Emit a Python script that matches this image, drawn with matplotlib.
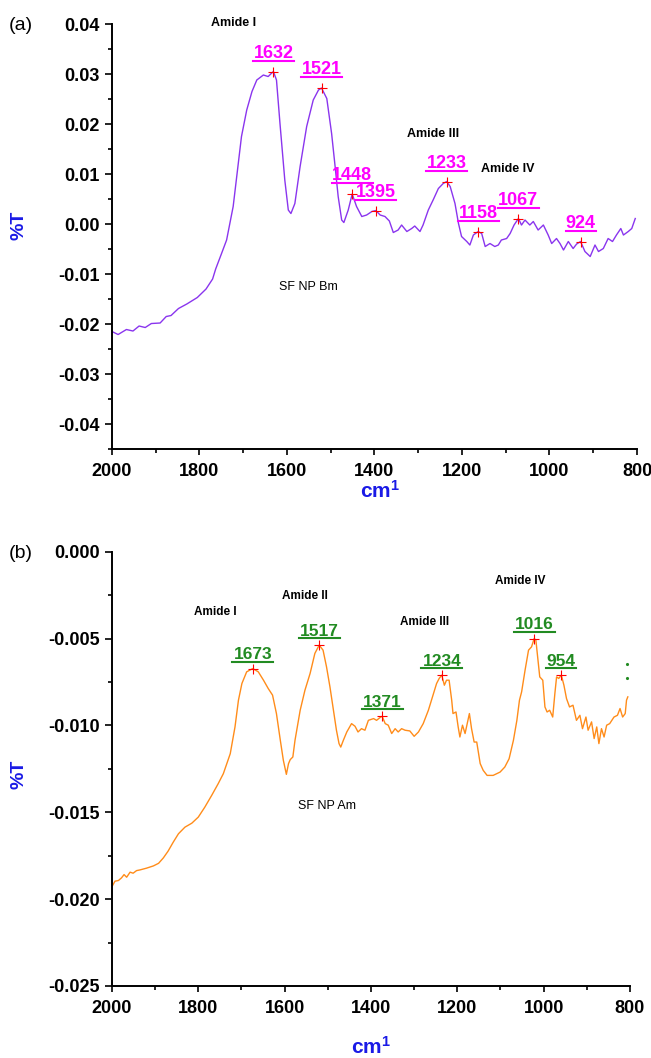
import matplotlib
matplotlib.use("Agg")
import matplotlib.pyplot as plt
from matplotlib.ticker import MultipleLocator, FuncFormatter
from matplotlib.transforms import offset_copy

plt.rcParams['font.family'] = ['Liberation Sans', 'DejaVu Sans']
plt.rcParams['axes.unicode_minus'] = False
plt.rcParams['mathtext.fontset'] = 'custom'
plt.rcParams['mathtext.bf'] = 'Liberation Sans:bold'
plt.rcParams['mathtext.rm'] = 'Liberation Sans'

# ---------------- (a) SF NP Bm ----------------
bm_wn = [2000, 1986, 1967, 1952, 1938, 1924, 1910, 1890, 1876, 1865, 1848, 1829, 1805, 1785,
         1770, 1763, 1750, 1738, 1723, 1704, 1692, 1680, 1669, 1654, 1643, 1636, 1631, 1624,
         1616, 1605, 1597, 1591, 1582, 1570, 1555, 1540, 1528, 1521, 1509, 1498, 1490, 1483,
         1475, 1470, 1460, 1451, 1441, 1429, 1418, 1406, 1397, 1387, 1376, 1366, 1357, 1346,
         1338, 1326, 1315, 1308, 1296, 1289, 1277, 1266, 1254, 1243, 1235, 1227, 1216, 1208,
         1201, 1189, 1182, 1174, 1163, 1155, 1147, 1136, 1125, 1117, 1110, 1098, 1090, 1081,
         1071, 1064, 1056, 1045, 1037, 1026, 1014, 1003, 995, 984, 976, 968, 957, 946, 938,
         929, 919, 907, 896, 888, 877, 866, 856, 847, 837, 831, 820, 812, 804]
bm_t = [-0.0215, -0.0221, -0.0211, -0.0214, -0.0204, -0.0207, -0.0199, -0.0198, -0.0185,
        -0.0183, -0.0169, -0.0160, -0.0147, -0.0130, -0.0110, -0.0090, -0.0060, -0.0032,
        0.0035, 0.0175, 0.0228, 0.0265, 0.0288, 0.0298, 0.0295, 0.0301, 0.0305, 0.0288,
        0.0201, 0.0088, 0.0028, 0.0021, 0.0041, 0.0115, 0.0195, 0.0248, 0.0268, 0.0272,
        0.0251, 0.0181, 0.0115, 0.0055, 0.0008, 0.0003, 0.0028, 0.0060, 0.0035, 0.0015,
        0.0018, 0.0025, 0.0027, 0.0018, 0.0015, 0.0006, -0.0017, -0.0012, -0.0002, -0.0015,
        -0.0009, -0.0004, -0.0015, -0.0002, 0.0028, 0.0048, 0.0071, 0.0081, 0.0085, 0.0075,
        0.0041, 0.0001, -0.0025, -0.0035, -0.0042, -0.0022, -0.0015, -0.0019, -0.0045,
        -0.0039, -0.0045, -0.0042, -0.0032, -0.0029, -0.0019, -0.0002, 0.0011, -0.0002,
        0.0008, -0.0002, 0.0005, -0.0012, -0.0002, -0.0022, -0.0039, -0.0029, -0.0039,
        -0.0052, -0.0035, -0.0049, -0.0040, -0.0035, -0.0055, -0.0065, -0.0042, -0.0055,
        -0.0049, -0.0029, -0.0035, -0.0022, -0.0009, -0.0022, -0.0015, -0.0009, 0.0011]
bm_peak_wn = [1631, 1521, 1451, 1397, 1235, 1163, 1071, 929]
bm_peak_t = [0.0305, 0.0272, 0.0060, 0.0027, 0.0085, -0.0015, 0.0011, -0.0035]
bm_peak_lab = ['1632', '1521', '1448', '1395', '1233', '1158', '1067', '924']
bm_band_lab = ['Amide I', 'Amide III', 'Amide IV']
bm_band_pos = [(1721, 0.0402), (1267, 0.0181), (1095, 0.0111)]

# ---------------- (b) SF NP Am ----------------
am_wn = [2000, 1993, 1985, 1978, 1972, 1966, 1958, 1951, 1943, 1935, 1920, 1904, 1892, 1881,
         1870, 1858, 1846, 1831, 1815, 1800, 1785, 1769, 1754, 1742, 1726, 1715, 1707, 1699,
         1688, 1674, 1661, 1649, 1638, 1628, 1619, 1610, 1603, 1596, 1591, 1587, 1581, 1576,
         1564, 1553, 1541, 1530, 1520, 1511, 1503, 1495, 1487, 1480, 1474, 1470, 1464, 1456,
         1445, 1437, 1430, 1422, 1414, 1406, 1394, 1387, 1379, 1374, 1367, 1360, 1352, 1344,
         1337, 1329, 1321, 1310, 1300, 1290, 1279, 1267, 1255, 1248, 1242, 1236, 1230, 1225,
         1219, 1213, 1210, 1203, 1198, 1194, 1188, 1182, 1172, 1167, 1161, 1155, 1147, 1140,
         1131, 1117, 1101, 1090, 1080, 1070, 1062, 1056, 1051, 1043, 1035, 1028, 1022, 1018,
         1013, 1009, 1002, 997, 992, 986, 979, 974, 970, 965, 959, 953, 947, 940, 932, 924,
         916, 910, 902, 897, 889, 883, 877, 872, 866, 860, 854, 847, 837, 829, 823, 817, 811,
         808, 805]
am_t = [-0.01928, -0.01897, -0.01893, -0.01878, -0.01859, -0.01874, -0.01845, -0.01851,
        -0.01836, -0.01832, -0.01822, -0.01809, -0.01794, -0.01763, -0.01724, -0.01672,
        -0.01624, -0.01586, -0.01563, -0.01528, -0.01471, -0.01403, -0.01336, -0.01278,
        -0.01163, -0.01009, -0.00855, -0.00759, -0.00692, -0.00673, -0.00692, -0.00740,
        -0.00788, -0.00826, -0.00932, -0.01086, -0.01201, -0.01282, -0.01220, -0.01197,
        -0.01182, -0.01086, -0.00913, -0.00798, -0.00701, -0.00586, -0.00538, -0.00567,
        -0.00663, -0.00779, -0.00913, -0.01028, -0.01105, -0.01125, -0.01086, -0.01038,
        -0.00990, -0.01005, -0.01038, -0.01019, -0.01028, -0.00971, -0.00961, -0.00971,
        -0.00955, -0.00948, -0.00990, -0.00999, -0.01047, -0.01019, -0.01038, -0.01019,
        -0.01028, -0.01032, -0.01063, -0.01038, -0.00990, -0.00913, -0.00817, -0.00759,
        -0.00730, -0.00711, -0.00769, -0.00740, -0.00740, -0.00855, -0.00932, -0.00923,
        -0.01009, -0.01067, -0.00999, -0.01047, -0.00932, -0.01019, -0.01096, -0.01096,
        -0.01220, -0.01259, -0.01288, -0.01288, -0.01269, -0.01240, -0.01192, -0.01086,
        -0.00971, -0.00855, -0.00807, -0.00682, -0.00567, -0.00548, -0.00500, -0.00509,
        -0.00625, -0.00721, -0.00740, -0.00894, -0.00923, -0.00913, -0.00952, -0.00817,
        -0.00721, -0.00730, -0.00711, -0.00769, -0.00846, -0.00894, -0.00884, -0.00971,
        -0.00942, -0.01019, -0.00952, -0.01028, -0.00980, -0.01076, -0.01009, -0.01105,
        -0.01019, -0.01067, -0.00999, -0.00990, -0.00952, -0.00942, -0.00903, -0.00952,
        -0.00932, -0.00855, -0.00836]
am_peak_wn = [1674, 1520, 1374, 1236, 1022, 959]
am_peak_t = [-0.00673, -0.00538, -0.00948, -0.00711, -0.00500, -0.00711]
am_peak_lab = ['1673', '1517', '1371', '1234', '1016', '954']
am_band_lab = ['Amide I', 'Amide II', 'Amide III', 'Amide IV']
am_band_pos = [(1760, -0.00346), (1553, -0.00255), (1275, -0.00404), (1055, -0.00169)]
am_dots_wn = [808, 808]
am_dots_t = [-0.00644, -0.00730]

blue = '#1a1ae6'

fig = plt.figure(figsize=(6.51, 10.58), dpi=100)
ax1 = fig.add_axes([0.1720, 0.5756, 0.8065, 0.4017])
ax2 = fig.add_axes([0.1720, 0.0681, 0.7957, 0.4105])


def style(ax, ymin, ymax, ystep, ndec):
    ax.set_xlim(2000, 800)
    ax.set_ylim(ymin, ymax)
    for s in ['top', 'right']:
        ax.spines[s].set_visible(False)
    for s in ['left', 'bottom']:
        ax.spines[s].set_linewidth(1.4)
    ax.xaxis.set_major_locator(MultipleLocator(200))
    ax.xaxis.set_minor_locator(MultipleLocator(100))
    ax.yaxis.set_major_locator(MultipleLocator(ystep))
    ax.yaxis.set_minor_locator(MultipleLocator(ystep / 2))
    # avoid "-0.000" at zero
    ax.yaxis.set_major_formatter(FuncFormatter(
        lambda v, p: '%.*f' % (ndec, 0.0 if abs(v) < 1e-9 else v)))
    ax.tick_params(which='both', direction='out', width=1.2)
    ax.tick_params(axis='y', which='major', length=5, pad=3.6, labelsize=13)
    ax.tick_params(axis='y', which='minor', length=3)
    ax.tick_params(axis='x', which='major', length=4, pad=6, labelsize=13)
    ax.tick_params(axis='x', which='minor', length=3)
    for lab in ax.get_xticklabels() + ax.get_yticklabels():
        lab.set_fontweight('bold')


def peaks(ax, xs, ys, labs, color, base_dy, line_dy, size, width_px):
    ax.plot(xs, ys, '+', color='red', ms=7, mew=0.8, zorder=4)
    per_px = 1200 / width_px
    under = offset_copy(ax.transData, fig=fig, x=0, y=line_dy, units='dots')
    for x, y, lab in zip(xs, ys, labs):
        ax.annotate(lab, (x, y), xytext=(0, base_dy), textcoords='offset pixels',
                    ha='center', va='baseline', color=color, fontsize=size,
                    fontweight='bold')
        hw = (5.5 * len(lab) - 1.5) * per_px
        ax.plot([x - hw, x + hw], [y, y], color=color, lw=1.5, transform=under)


# (a)
ax1.plot(bm_wn, bm_t, color='#8a35ee', lw=1.0)
peaks(ax1, bm_peak_wn, bm_peak_t, bm_peak_lab, '#ff00ff', 13.7, 11, 13, 525)
for lab, (x, y) in zip(bm_band_lab, bm_band_pos):
    ax1.text(x, y, lab, ha='center', va='center', fontsize=9, fontweight='bold')
ax1.text(1550, -0.0126, 'SF NP Bm', ha='center', va='center', fontsize=9)
style(ax1, -0.045, 0.04, 0.01, 2)
ax1.set_ylabel('%T', color=blue, fontsize=14, fontweight='bold', va='center')
ax1.yaxis.set_label_coords(-0.177, 0.527)
ax1.set_xlabel(r'$\mathbf{cm^{1}}$', color=blue, fontsize=15, va='center')
ax1.xaxis.set_label_coords(0.51, -0.098)

# (b)
ax2.plot(am_wn, am_t, color='#ff8c1a', lw=1.0)
peaks(ax2, am_peak_wn, am_peak_t, am_peak_lab, '#228b22', 9.5, 7, 12.5, 518)
ax2.plot(am_dots_wn, am_dots_t, '.', color='#228b22', ms=2.5)
for lab, (x, y) in zip(am_band_lab, am_band_pos):
    ax2.text(x, y, lab, ha='center', va='center', fontsize=8.5, fontweight='bold')
ax2.text(1503, -0.01467, 'SF NP Am', ha='center', va='center', fontsize=9)
style(ax2, -0.025, 0.0, 0.005, 3)
ax2.set_ylabel('%T', color=blue, fontsize=14, fontweight='bold', va='center')
ax2.yaxis.set_label_coords(-0.18, 0.488)
ax2.set_xlabel(r'$\mathbf{cm^{1}}$', color=blue, fontsize=15, va='center')
ax2.xaxis.set_label_coords(0.5, -0.140)

fig.text(21 / 651, 1 - 25 / 1058, '(a)', ha='center', va='center', fontsize=14)
fig.text(21 / 651, 1 - 553 / 1058, '(b)', ha='center', va='center', fontsize=14)

fig.savefig('out.png', dpi=100)
